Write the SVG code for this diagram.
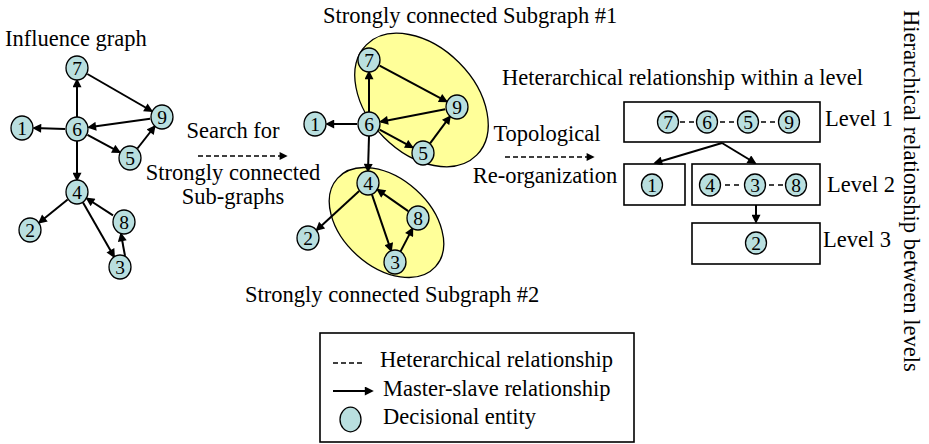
<svg xmlns="http://www.w3.org/2000/svg" width="929" height="444" viewBox="0 0 929 444">
<style>
.t{font-family:"Liberation Serif","Times New Roman",serif;font-size:22.5px;fill:#000}
.d{font-family:"Liberation Serif","Times New Roman",serif;font-size:19.5px;fill:#000;text-anchor:middle}
.n{fill:#b9dfdf;stroke:#000;stroke-width:1.3}
.e{stroke:#000;stroke-width:2;fill:none;marker-end:url(#ah)}
.dash{stroke:#000;stroke-width:1.5;fill:none;stroke-dasharray:5,3}
.hd{stroke:#000;stroke-width:1.4;fill:none;stroke-dasharray:5,4}
.box{fill:#fff;stroke:#000;stroke-width:1.6}
.scc{fill:#ffff99;stroke:#000;stroke-width:1.3}
</style>
<defs>
<marker id="ah" viewBox="0 0 10 10" refX="8" refY="5" markerWidth="10" markerHeight="9" markerUnits="userSpaceOnUse" orient="auto"><path d="M0,0 L10,5 L0,10 z" fill="#000"/></marker>
<marker id="ahs" viewBox="0 0 10 10" refX="8" refY="5" markerWidth="9" markerHeight="8" markerUnits="userSpaceOnUse" orient="auto"><path d="M0,0 L10,5 L0,10 z" fill="#000"/></marker>
</defs>
<rect width="929" height="444" fill="#fff"/>

<!-- titles and labels -->
<text class="t" x="5" y="46">Influence graph</text>
<text class="t" x="323" y="23">Strongly connected Subgraph #1</text>
<text class="t" x="245" y="302">Strongly connected Subgraph #2</text>
<text class="t" x="502" y="85">Heterarchical relationship within a level</text>
<text class="t" x="233" y="138" text-anchor="middle">Search for</text>
<text class="t" x="233" y="180" text-anchor="middle">Strongly connected</text>
<text class="t" x="233" y="204" text-anchor="middle">Sub-graphs</text>
<text class="t" x="547" y="141" text-anchor="middle">Topological</text>
<text class="t" x="545" y="183" text-anchor="middle">Re-organization</text>
<text class="t" x="825" y="126">Level 1</text>
<text class="t" x="827" y="192">Level 2</text>
<text class="t" x="823" y="247">Level 3</text>
<text class="t" transform="translate(904,10) rotate(90)">Hierarchical relationship between levels</text>

<!-- subgraph highlights -->
<g id="scc1"><ellipse class="scc" cx="421.5" cy="100" rx="78" ry="53" transform="rotate(45 421.5 100)"/></g>
<g id="scc2"><ellipse class="scc" cx="386.5" cy="222.5" rx="66" ry="44" transform="rotate(42 386.5 222.5)"/></g>

<!-- level boxes -->
<g id="level1"><rect class="box" x="624" y="102" width="196" height="40"/></g>
<g id="level2a"><rect class="box" x="624" y="164" width="61" height="41"/></g>
<g id="level2b"><rect class="box" x="692" y="164" width="128" height="41"/></g>
<g id="level3"><rect class="box" x="692" y="223" width="128" height="41"/></g>

<!-- connectors -->
<g id="connectors">
<!-- left graph -->
<line class="e" x1="77" y1="117" x2="77" y2="80"/>
<line class="e" x1="87.4" y1="74" x2="151.6" y2="111"/>
<line class="e" x1="150.1" y1="118.7" x2="88.9" y2="127.3"/>
<line class="e" x1="65" y1="129" x2="34" y2="128"/>
<line class="e" x1="87.5" y1="134.8" x2="119.5" y2="152.2"/>
<line class="e" x1="137.4" y1="148.5" x2="154.6" y2="126.5"/>
<line class="e" x1="77" y1="141" x2="77" y2="180"/>
<line class="e" x1="67.7" y1="199.5" x2="39.3" y2="222.5"/>
<line class="e" x1="83" y1="202.4" x2="114" y2="256.6"/>
<line class="e" x1="125" y1="256" x2="121" y2="234"/>
<line class="e" x1="113" y1="215.4" x2="87" y2="198.5"/>
<!-- middle graph -->
<line class="e" x1="369" y1="112" x2="369" y2="72"/>
<line class="e" x1="379.6" y1="65.7" x2="446.4" y2="101.3"/>
<line class="e" x1="445.2" y1="109.3" x2="380.8" y2="121.7"/>
<line class="e" x1="357" y1="124" x2="327" y2="124"/>
<line class="e" x1="379.6" y1="129.7" x2="412.4" y2="147.3"/>
<line class="e" x1="430.1" y1="143.4" x2="449.9" y2="116.6"/>
<line class="e" x1="369" y1="136" x2="368" y2="171"/>
<line class="e" x1="359.2" y1="191.1" x2="316.8" y2="229.9"/>
<line class="e" x1="371.9" y1="194.4" x2="391.1" y2="250.6"/>
<line class="e" x1="400.6" y1="251.4" x2="412.4" y2="228.6"/>
<line class="e" x1="408.2" y1="211.1" x2="377.8" y2="189.9"/>
<!-- process arrows -->
<line class="dash" x1="198" y1="156" x2="286" y2="156" marker-end="url(#ahs)"/>
<line class="dash" x1="505" y1="157" x2="593" y2="157" marker-end="url(#ahs)"/>
<!-- hierarchy -->
<line class="e" x1="722" y1="143" x2="655" y2="163"/>
<line class="e" x1="722" y1="143" x2="755" y2="163"/>
<line class="e" x1="756" y1="205" x2="756" y2="222"/>
<!-- heterarchical dashes -->
<line class="hd" x1="680" y1="122" x2="694" y2="122"/>
<line class="hd" x1="720" y1="122" x2="734" y2="122"/>
<line class="hd" x1="761" y1="122" x2="775" y2="122"/>
<line class="hd" x1="725" y1="185" x2="739" y2="185"/>
<line class="hd" x1="769" y1="185" x2="783" y2="185"/>
</g>

<!-- left graph nodes -->
<g id="L7"><ellipse class="n" cx="77" cy="68" rx="11" ry="12"/><text class="d" x="77" y="75">7</text></g>
<g id="L9"><ellipse class="n" cx="162" cy="117" rx="11" ry="12"/><text class="d" x="162" y="124">9</text></g>
<g id="L6"><ellipse class="n" cx="77" cy="129" rx="11" ry="12"/><text class="d" x="77" y="136">6</text></g>
<g id="L1"><ellipse class="n" cx="22" cy="128" rx="11" ry="12"/><text class="d" x="22" y="135">1</text></g>
<g id="L5"><ellipse class="n" cx="130" cy="158" rx="11" ry="12"/><text class="d" x="130" y="165">5</text></g>
<g id="L4"><ellipse class="n" cx="77" cy="192" rx="11" ry="12"/><text class="d" x="77" y="199">4</text></g>
<g id="L2"><ellipse class="n" cx="30" cy="230" rx="11" ry="12"/><text class="d" x="30" y="237">2</text></g>
<g id="L8"><ellipse class="n" cx="124" cy="222" rx="11" ry="12"/><text class="d" x="124" y="229">8</text></g>
<g id="L3"><ellipse class="n" cx="120" cy="267" rx="11" ry="12"/><text class="d" x="120" y="274">3</text></g>

<!-- middle graph nodes -->
<g id="M7"><ellipse class="n" cx="369" cy="60" rx="11" ry="12"/><text class="d" x="369" y="67">7</text></g>
<g id="M9"><ellipse class="n" cx="457" cy="107" rx="11" ry="12"/><text class="d" x="457" y="114">9</text></g>
<g id="M6"><ellipse class="n" cx="369" cy="124" rx="11" ry="12"/><text class="d" x="369" y="131">6</text></g>
<g id="M1"><ellipse class="n" cx="315" cy="124" rx="11" ry="12"/><text class="d" x="315" y="131">1</text></g>
<g id="M5"><ellipse class="n" cx="423" cy="153" rx="11" ry="12"/><text class="d" x="423" y="160">5</text></g>
<g id="M4"><ellipse class="n" cx="368" cy="183" rx="11" ry="12"/><text class="d" x="368" y="190">4</text></g>
<g id="M8"><ellipse class="n" cx="418" cy="218" rx="11" ry="12"/><text class="d" x="418" y="225">8</text></g>
<g id="M2"><ellipse class="n" cx="308" cy="238" rx="11" ry="12"/><text class="d" x="308" y="245">2</text></g>
<g id="M3"><ellipse class="n" cx="395" cy="262" rx="11" ry="12"/><text class="d" x="395" y="269">3</text></g>

<!-- hierarchy nodes -->
<g id="H7"><ellipse class="n" cx="668" cy="122" rx="10.5" ry="11"/><text class="d" x="668" y="129">7</text></g>
<g id="H6"><ellipse class="n" cx="707" cy="122" rx="10.5" ry="11"/><text class="d" x="707" y="129">6</text></g>
<g id="H5"><ellipse class="n" cx="748" cy="122" rx="10.5" ry="11"/><text class="d" x="748" y="129">5</text></g>
<g id="H9"><ellipse class="n" cx="789" cy="122" rx="10.5" ry="11"/><text class="d" x="789" y="129">9</text></g>
<g id="H1"><ellipse class="n" cx="652" cy="185" rx="10.5" ry="11"/><text class="d" x="652" y="192">1</text></g>
<g id="H4"><ellipse class="n" cx="710" cy="185" rx="10.5" ry="11"/><text class="d" x="710" y="192">4</text></g>
<g id="H3"><ellipse class="n" cx="755" cy="185" rx="10.5" ry="11"/><text class="d" x="755" y="192">3</text></g>
<g id="H8"><ellipse class="n" cx="796" cy="185" rx="10.5" ry="11"/><text class="d" x="796" y="192">8</text></g>
<g id="H2"><ellipse class="n" cx="756" cy="243" rx="10.5" ry="11"/><text class="d" x="756" y="250">2</text></g>

<!-- legend -->
<g id="legend">
<rect class="box" x="320" y="333" width="314" height="109" stroke-width="1.4"/>
<line class="dash" x1="333" y1="363" x2="362" y2="363"/>
<text class="t" x="380" y="367">Heterarchical relationship</text>
<line class="e" x1="333" y1="391" x2="372" y2="391" marker-end="url(#ahs)"/>
<text class="t" x="383" y="396">Master-slave relationship</text>
<ellipse class="n" cx="350.5" cy="419.5" rx="10.5" ry="12.3"/>
<text class="t" x="383" y="424">Decisional entity</text>
</g>
</svg>
